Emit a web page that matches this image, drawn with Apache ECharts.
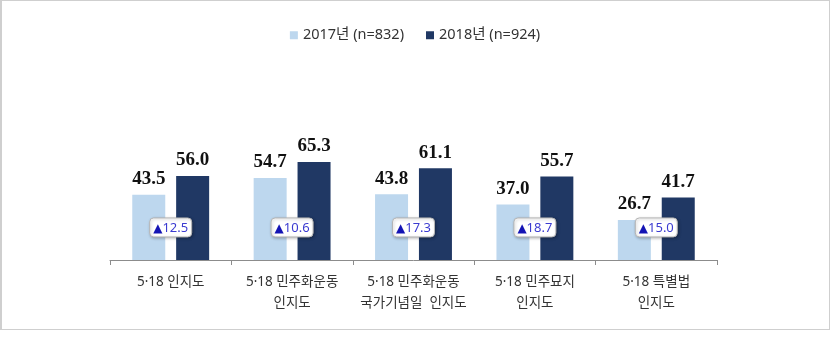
<!DOCTYPE html>
<html><head><meta charset="utf-8">
<script src="https://cdn.jsdelivr.net/npm/echarts@6/dist/echarts.min.js"></script>
<style>
html,body{margin:0;padding:0;background:#fff;}
#wrap{position:absolute;left:0;top:0;width:830px;height:330px;box-sizing:border-box;border:1px solid #cfcfcf;border-left-width:2px;}
#c{position:absolute;left:0;top:0;width:830px;height:341px;}
</style></head>
<body>
<div id="wrap"></div>
<div id="c"></div>
<script>
const categories = ['5·18 인지도', '5·18 민주화운동\n인지도', '5·18 민주화운동\n국가기념일  인지도', '5·18 민주묘지\n인지도', '5·18 특별법\n인지도'];
const seriesNames = ['2017년 (n=832)', '2018년 (n=924)'];
const values2017 = [43.5, 54.7, 43.8, 37.0, 26.7];
const values2018 = [56.0, 65.3, 61.1, 55.7, 41.7];
const increases = [12.5, 10.6, 17.3, 18.7, 15.0];

const chart = echarts.init(document.getElementById('c'), null, {renderer: 'canvas'});
const valueLabel = {
  show: true, position: 'top', distance: 6,
  fontFamily: '"Liberation Serif", "Times New Roman", serif',
  fontWeight: 'bold', fontSize: 19, color: '#111',
  formatter: p => p.value.toFixed(1)
};
const boxLevel = 21.7;
chart.setOption({
  animation: false,
  legend: {
    top: 23, left: 'center', itemWidth: 8, itemHeight: 8, itemGap: 22,
    icon: 'rect',
    textStyle: {fontFamily: '"Noto Sans", "Noto Sans CJK KR", sans-serif', fontSize: 14.5, color: '#333'},
    data: seriesNames
  },
  grid: {left: 110, right: 113, top: 110, bottom: 81},
  xAxis: {
    type: 'category', data: categories,
    axisLine: {lineStyle: {color: '#8c8c8c', width: 1}},
    axisTick: {show: true, length: 5, lineStyle: {color: '#8c8c8c'}},
    axisLabel: {interval: 0, margin: 12, fontFamily: '"Noto Sans", "Noto Sans CJK KR", sans-serif', fontSize: 13.5, color: '#333', lineHeight: 21}
  },
  yAxis: {type: 'value', min: 0, max: 100, show: false, splitLine: {show: false}},
  series: [
    {name: seriesNames[0], type: 'bar', data: values2017, barWidth: 33, barGap: '33%',
     itemStyle: {color: '#BDD7EE'}, label: valueLabel},
    {name: seriesNames[1], type: 'bar', data: values2018, barWidth: 33,
     itemStyle: {color: '#203864'}, label: valueLabel},
    {type: 'custom', data: increases.map((v, i) => [i, v]), z: 10,
     renderItem: function (params, api) {
       const pt = api.coord([api.value(0), boxLevel]);
       const w = 42, h = 19;
       return {
         type: 'group',
         children: [
           {type: 'rect', shape: {x: pt[0] - w / 2, y: pt[1] - h / 2, width: w, height: h, r: 4},
            style: {fill: '#fff', stroke: '#b5b5b5', lineWidth: 1, shadowBlur: 3, shadowColor: 'rgba(0,0,0,0.25)', shadowOffsetX: 1, shadowOffsetY: 1}},
           {type: 'text', x: pt[0], y: pt[1] + 1,
            style: {text: '{t|▲}{n|' + api.value(1).toFixed(1) + '}', align: 'center', verticalAlign: 'middle',
              rich: {t: {fill: '#1414b4', fontSize: 12, fontFamily: '"DejaVu Sans", sans-serif'},
                     n: {fill: '#3b3bd0', fontSize: 13, fontFamily: '"Noto Sans", sans-serif'}}}}
         ]
       };
     }}
  ]
});
</script>
</body></html>
